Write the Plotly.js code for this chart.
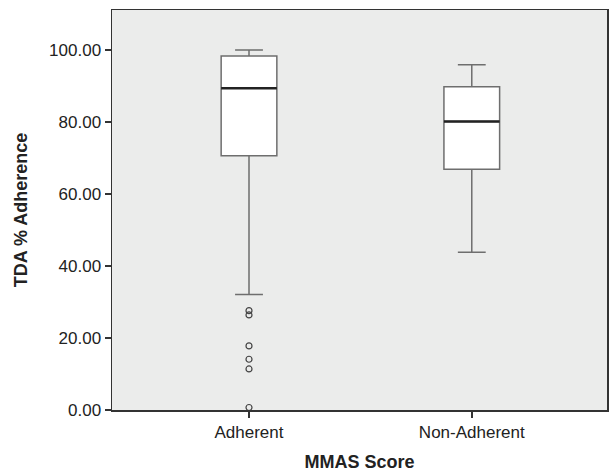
<!DOCTYPE html>
<html>
<head>
<meta charset="utf-8">
<script src="https://cdn.plot.ly/plotly-3.0.1.min.js"></script>
<style>html,body{margin:0;padding:0;background:#fff;}#chart{width:609px;height:475px;}</style>
</head>
<body>
<div id="chart"></div>
<script>
// Data
var categories = ["Adherent", "Non-Adherent"];
var lowerWhisker = [32.1, 43.8];
var q1Values = [70.6, 66.9];
var medians = [89.4, 80.1];
var q3Values = [98.3, 89.8];
var upperWhisker = [100.0, 95.9];
var outlierGroup = [0, 0, 0, 0, 0, 0];
var outlierValues = [27.6, 26.4, 17.8, 14.1, 11.4, 0.7];
var yTickValues = [0, 20, 40, 60, 80, 100];
var yTickLabels = ["0.00", "20.00", "40.00", "60.00", "80.00", "100.00"];

var boxWidth = 0.25;
var positions = categories.map(function (c, i) { return i; });

var traces = [];
categories.forEach(function (c, i) {
  traces.push({
    type: 'box',
    x: [positions[i]],
    q1: [q1Values[i]],
    median: [medians[i]],
    q3: [q3Values[i]],
    lowerfence: [lowerWhisker[i]],
    upperfence: [upperWhisker[i]],
    width: boxWidth,
    whiskerwidth: 0.5,
    fillcolor: '#ffffff',
    line: {color: '#6e6e6e', width: 1.5},
    boxpoints: false,
    hoverinfo: 'skip',
    showlegend: false,
    name: c
  });
  traces.push({
    type: 'scatter',
    mode: 'lines',
    x: [positions[i] - boxWidth / 2, positions[i] + boxWidth / 2],
    y: [medians[i], medians[i]],
    line: {color: '#222222', width: 2.5},
    hoverinfo: 'skip',
    showlegend: false
  });
});

traces.push({
  type: 'scatter',
  mode: 'markers',
  x: outlierGroup.map(function (g) { return positions[g]; }),
  y: outlierValues,
  marker: {symbol: 'circle-open', size: 6, color: '#444444', line: {width: 1.2}},
  hoverinfo: 'skip',
  showlegend: false
});

var layout = {
  width: 609,
  height: 475,
  margin: {l: 112, r: 2, t: 10, b: 65},
  paper_bgcolor: '#ffffff',
  plot_bgcolor: '#ebeceb',
  font: {family: 'Liberation Sans, Arial, sans-serif', size: 17, color: '#222222'},
  xaxis: {
    range: [-0.615, 1.607],
    tickvals: positions,
    ticktext: categories,
    ticks: 'outside',
    ticklen: 6,
    tickcolor: '#333333',
    tickwidth: 1.5,
    showgrid: false,
    zeroline: false,
    showline: true,
    linecolor: '#333333',
    linewidth: 1.5,
    mirror: true,
    tickfont: {size: 17},
    title: {text: '<b>MMAS Score</b>', font: {size: 18}, standoff: 14}
  },
  yaxis: {
    range: [0, 111.1],
    tickvals: yTickValues,
    ticktext: yTickLabels,
    ticks: 'outside',
    ticklen: 6,
    tickcolor: '#333333',
    tickwidth: 1.5,
    showgrid: false,
    zeroline: false,
    showline: true,
    linecolor: '#333333',
    linewidth: 1.5,
    mirror: true,
    tickfont: {size: 17},
    title: {text: '<b>TDA % Adherence</b>', font: {size: 18}, standoff: 17}
  }
};

Plotly.newPlot('chart', traces, layout, {displayModeBar: false, staticPlot: true});
</script>
</body>
</html>
